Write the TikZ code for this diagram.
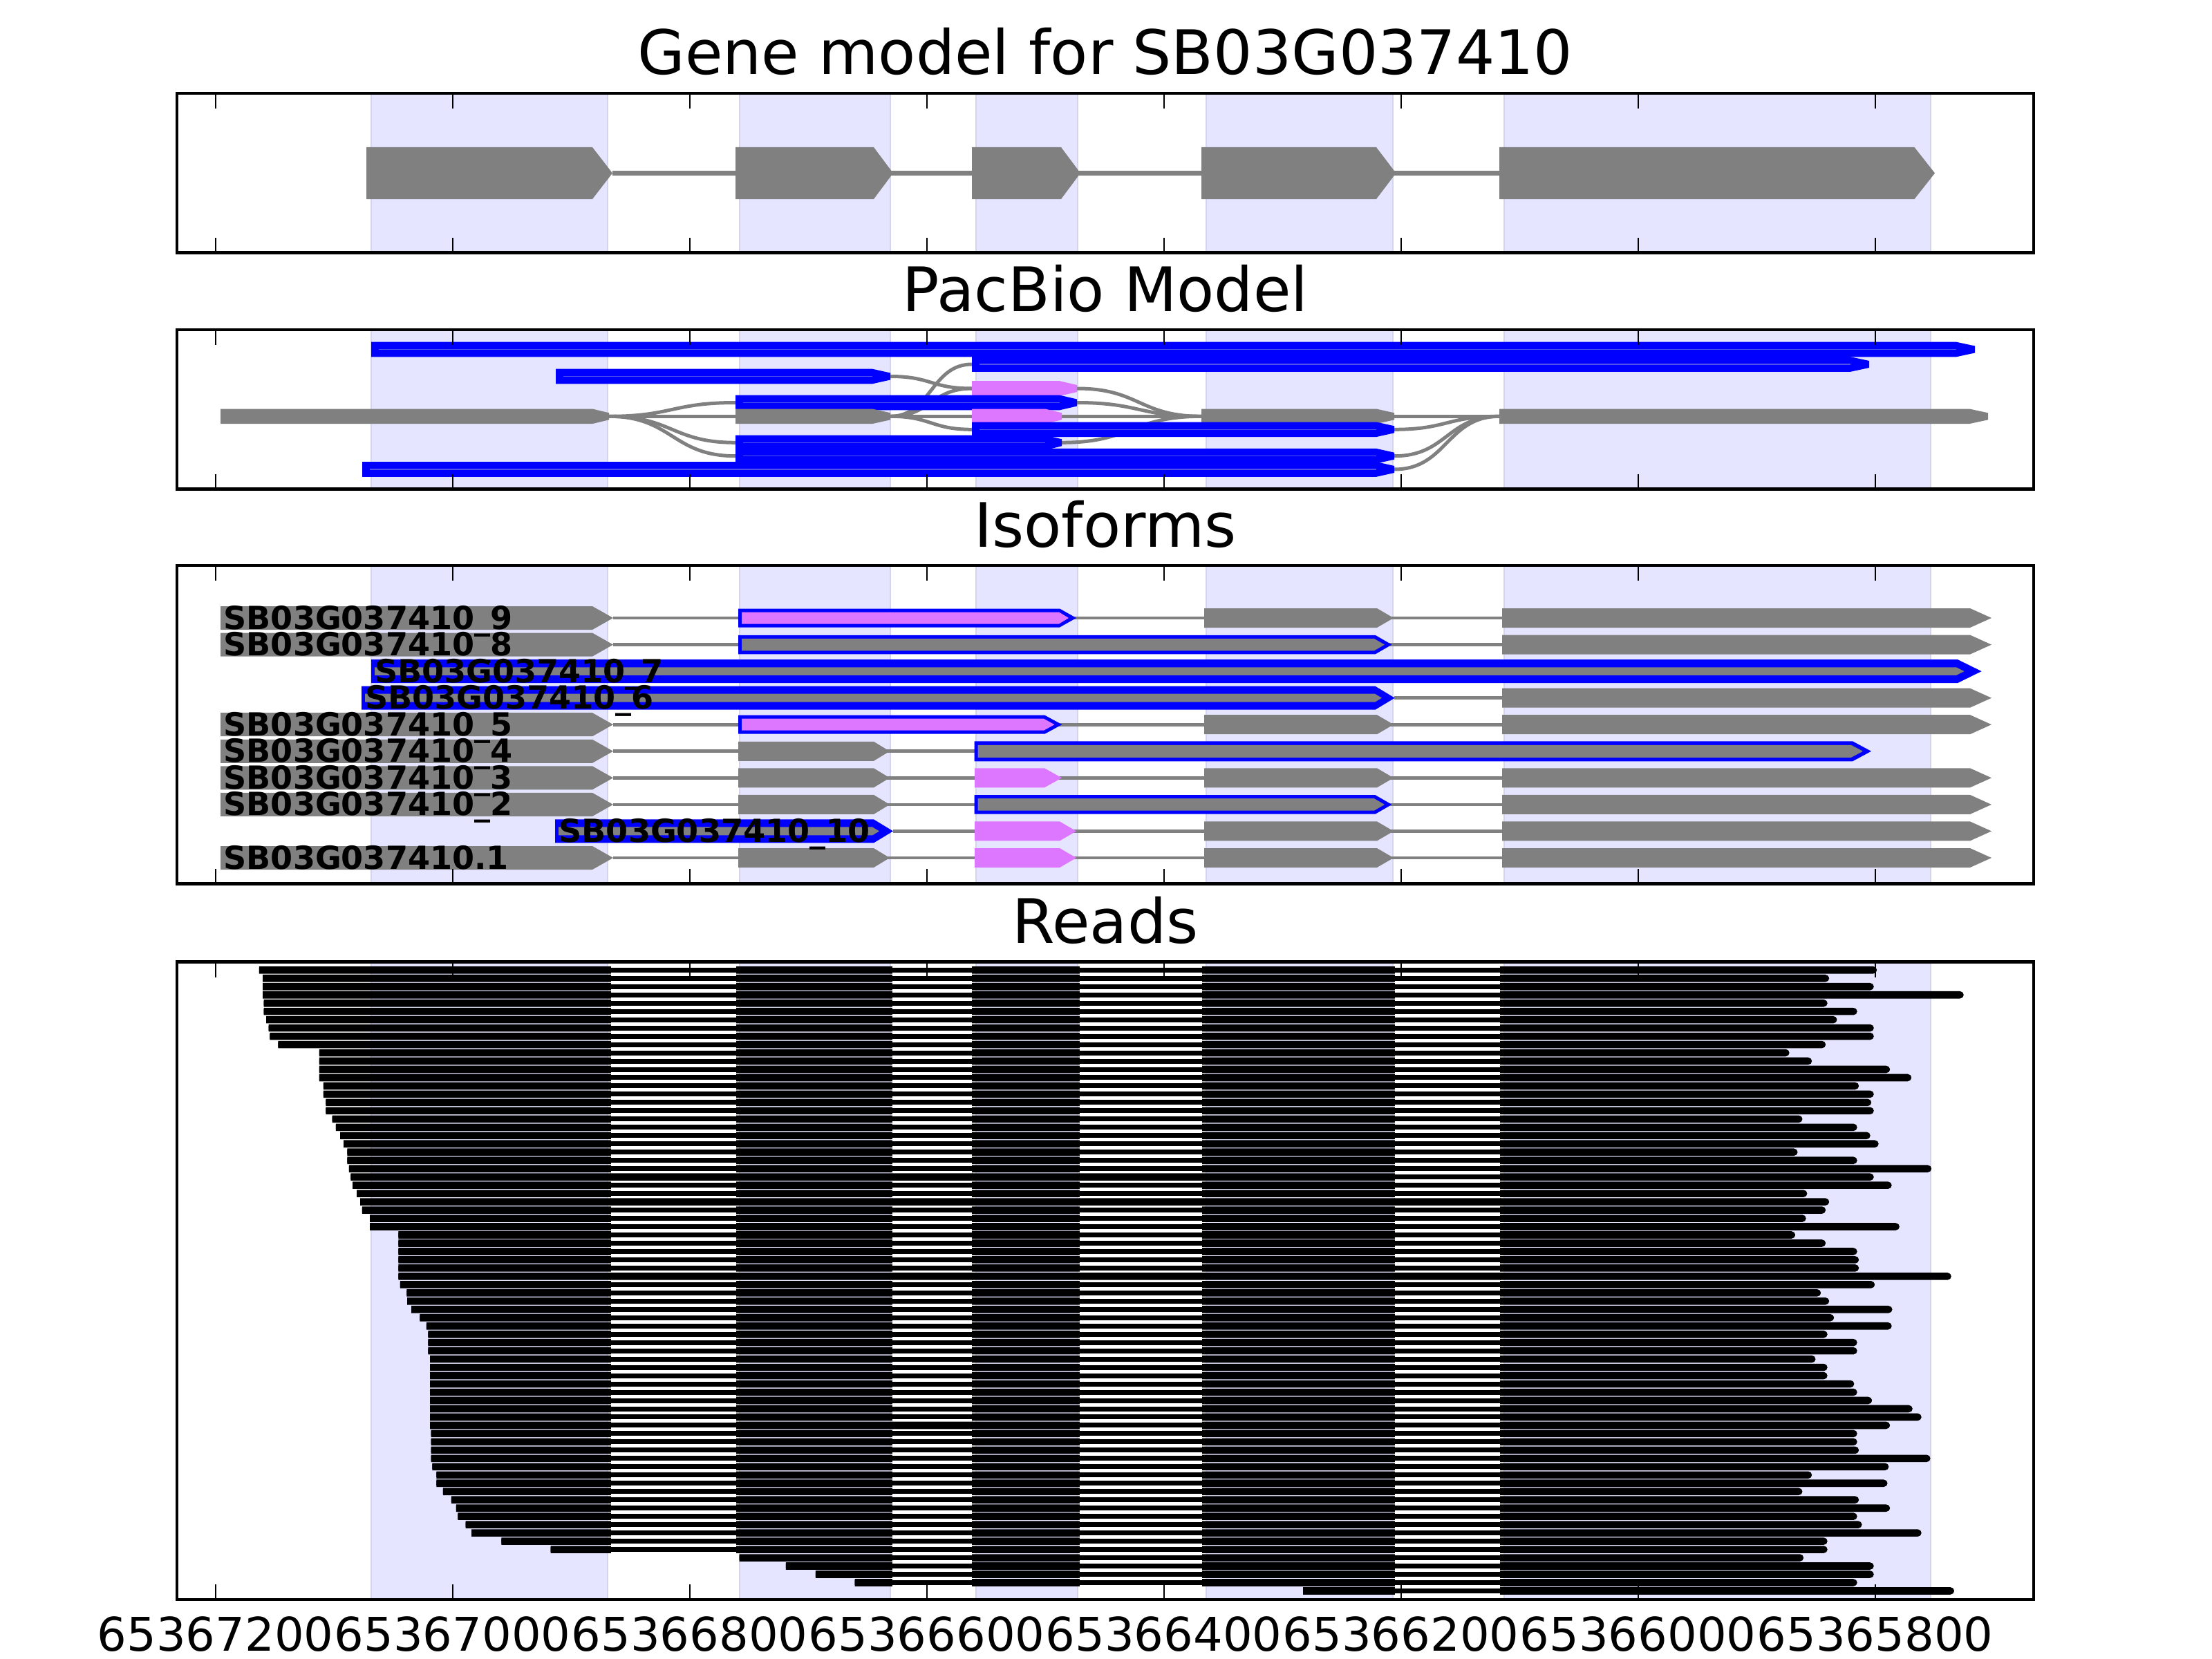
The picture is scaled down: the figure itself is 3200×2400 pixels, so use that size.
\documentclass[tikz,border=0pt]{standalone}
\usepackage{fontspec}
\setmainfont{DejaVu Sans}
\definecolor{exgray}{RGB}{128,128,128}
\definecolor{bandfill}{RGB}{229,229,255}
\definecolor{bandedge}{RGB}{212,212,238}
\definecolor{isoviolet}{RGB}{221,119,255}
\definecolor{pbline}{RGB}{80,80,235}
\newcommand\arw[5]{(#1,#4-#5) -- (#2,#4-#5) -- (#3,#4) -- (#2,#4+#5) -- (#1,#4+#5) -- cycle}
\newcommand\hxw[5]{(#1,#4-#5) -- (#2,#4-#5) -- (#3,#4-5) -- (#3,#4+5) -- (#2,#4+#5) -- (#1,#4+#5) -- cycle}
\newcommand\bandset[2]{%
  \foreach \ba/\bb in {537/879,1070/1288,1412/1559,1745/2015,2176/2793}
    {\filldraw[fill=bandfill,draw=bandedge,line width=0.02cm] (\ba,#1) rectangle (\bb,#2);}}
\newcommand\frameset[2]{%
  \draw[line width=0.045cm] (256,#1) rectangle (2942,#2);
  \foreach \tx in {311.7,654.7,997.7,1340.7,1683.7,2026.7,2369.7,2712.7}
    {\draw[line width=0.022cm] (\tx,#1) -- (\tx,#1+22) (\tx,#2) -- (\tx,#2-22);}}
\newcommand\pbb[5]{\fill[#5] \hxw{#1}{#2}{#3}{#4}{10.8};}
\newcommand\pbl[3]{\draw[pbline,line width=0.015cm] (#1+11,#3) -- (#2,#3);}
\newcommand\isoline[3]{\draw[exgray,line width=0.047cm] (#1,#3) -- (#2,#3);}
\begin{document}
\begin{tikzpicture}[x=0.01cm,y=-0.01cm,
  ttl/.style={anchor=base,font=\fontsize{25.2}{25.2}\selectfont},
  ticklab/.style={anchor=base,font=\fontsize{19.1}{19.1}\selectfont},
  isolab/.style={anchor=base west,inner sep=0pt,font=\bfseries\fontsize{13.1}{13.1}\selectfont}]
\useasboundingbox (0,0) rectangle (3200,2400);

% ---------------- titles
\node[ttl] (title1) at (1599,108) {Gene model for SB03G037410};
\node[ttl] (title2) at (1599,450) {PacBio Model};
\node[ttl] (title3) at (1599,791) {Isoforms};
\node[ttl] (title4) at (1599,1364.5) {Reads};

% ---------------- gene model
\bandset{135}{365.5}
\draw[exgray,line width=0.06cm] (886,250.5) -- (2169,250.5);
\fill[exgray] \arw{530}{857}{886}{250.5}{37.5};
\fill[exgray] \arw{1064}{1264}{1292}{250.5}{37.5};
\fill[exgray] \arw{1406}{1535}{1563}{250.5}{37.5};
\fill[exgray] \arw{1738}{1991}{2019.5}{250.5}{37.5};
\fill[exgray] \arw{2169}{2769.5}{2799}{250.5}{37.5};
\frameset{135}{365.5}

% ---------------- PacBio model
\bandset{477}{707.5}
\begin{scope}[exgray,line width=0.05cm]
\draw (881,602.3) .. controls (972.5,602.3) and (972.5,582.5) .. (1064,582.5);
\draw (881,602.3) -- (1064,602.3);
\draw (881,602.3) .. controls (972.5,602.3) and (972.5,640.3) .. (1064,640.3);
\draw (881,602.3) .. controls (972.5,602.3) and (972.5,659.7) .. (1064,659.7);
\draw (1288,544.5) .. controls (1347,544.5) and (1347,562) .. (1406,562);
\draw (1288,602.3) .. controls (1347,602.3) and (1347,527) .. (1406,527);
\draw (1288,602.3) .. controls (1347,602.3) and (1347,562) .. (1406,562);
\draw (1288,602.3) -- (1406,602.3);
\draw (1288,602.3) .. controls (1347,602.3) and (1347,621.3) .. (1406,621.3);
\draw (1558,562) .. controls (1648,562) and (1648,602.3) .. (1738,602.3);
\draw (1558,582.5) .. controls (1648,582.5) and (1648,602.3) .. (1738,602.3);
\draw (1536,602.3) -- (1738,602.3);
\draw (1536,640.3) .. controls (1637,640.3) and (1637,602.3) .. (1738,602.3);
\draw (2017,602.3) -- (2169,602.3);
\draw (2017,621.3) .. controls (2093,621.3) and (2093,602.3) .. (2169,602.3);
\draw (2017,659.7) .. controls (2093,659.7) and (2093,602.3) .. (2169,602.3);
\draw (2017,679) .. controls (2093,679) and (2093,602.3) .. (2169,602.3);
\end{scope}
\pbb{537}{2830}{2857}{505.5}{blue}\pbl{537}{2830}{505.5}
\pbb{1406}{2677}{2704}{527}{blue}\pbl{1406}{2677}{527}
\pbb{804}{1262}{1288}{544.5}{blue}\pbl{804}{1262}{544.5}
\pbb{1406}{1533}{1558}{562}{isoviolet}
\pbb{1064}{1533}{1558}{582.5}{blue}\pbl{1064}{1533}{582.5}
\pbb{319}{857}{881}{602.3}{exgray}
\pbb{1064}{1262}{1288}{602.3}{exgray}
\pbb{1406}{1512}{1536}{602.3}{isoviolet}
\pbb{1738}{1991}{2017}{602.3}{exgray}
\pbb{2169}{2849}{2876}{602.3}{exgray}
\pbb{1406}{1991}{2017}{621.3}{blue}\pbl{1406}{1991}{621.3}
\pbb{1064}{1512}{1536}{640.3}{blue}\pbl{1064}{1512}{640.3}
\pbb{1064}{1991}{2017}{659.7}{blue}\pbl{1064}{1991}{659.7}
\pbb{524}{1991}{2017}{679}{blue}\pbl{524}{1991}{679}
\frameset{477}{707.5}

% ---------------- isoforms
\bandset{818}{1278.7}
% row 0 : _9
\isoline{887}{2173}{894.0}
\fill[exgray] \arw{319}{857}{887}{894.0}{17};
\fill[blue] \arw{1068}{1533}{1557}{894.0}{13.5};
\fill[isoviolet] \arw{1073}{1532}{1546}{894.0}{8.5};
\fill[exgray] \arw{1742}{1992}{2016}{894.0}{14};
\fill[exgray] \arw{2173}{2850}{2881}{894.0}{14};
% row 1 : _8
\isoline{887}{2173}{932.6}
\fill[exgray] \arw{319}{857}{887}{932.6}{17};
\fill[blue] \arw{1068}{1989.5}{2013.4}{932.6}{13.8};
\fill[exgray] \arw{1073}{1988}{2003}{932.6}{8.7};
\fill[exgray] \arw{2173}{2850}{2881}{932.6}{14};
% row 2 : _7
\fill[blue] \arw{537}{2832}{2866.6}{971.1}{17};
\fill[exgray] \arw{542}{2830}{2841.6}{971.1}{5.8};
% row 3 : _6
\isoline{2017}{2173}{1009.7}
\fill[blue] \arw{523}{1989.5}{2017.7}{1009.7}{17};
\fill[exgray] \arw{528}{1989}{1999}{1009.7}{6};
\fill[exgray] \arw{2173}{2850}{2881}{1009.7}{14};
% row 4 : _5
\isoline{887}{2173}{1048.2}
\fill[exgray] \arw{319}{857}{887}{1048.2}{17};
\fill[blue] \arw{1068}{1511.4}{1536.3}{1048.2}{13.5};
\fill[isoviolet] \arw{1073}{1510}{1525.5}{1048.2}{8.5};
\fill[exgray] \arw{1742}{1992}{2016}{1048.2}{14};
\fill[exgray] \arw{2173}{2850}{2881}{1048.2}{14};
% row 5 : _4
\isoline{887}{1410}{1086.8}
\fill[exgray] \arw{319}{857}{887}{1086.8}{17};
\fill[exgray] \arw{1068}{1264}{1287}{1086.8}{14};
\fill[blue] \arw{1409.5}{2680}{2707}{1086.8}{14.5};
\fill[exgray] \arw{1414.5}{2678}{2695}{1086.8}{9};
% row 6 : _3
\isoline{887}{2173}{1125.3}
\fill[exgray] \arw{319}{857}{887}{1125.3}{17};
\fill[exgray] \arw{1068}{1264}{1287}{1125.3}{14};
\fill[isoviolet] \arw{1410}{1511}{1536}{1125.3}{14};
\fill[exgray] \arw{1742}{1992}{2016}{1125.3}{14};
\fill[exgray] \arw{2173}{2850}{2881}{1125.3}{14};
% row 7 : _2
\isoline{887}{2173}{1163.9}
\fill[exgray] \arw{319}{857}{887}{1163.9}{17};
\fill[exgray] \arw{1068}{1264}{1287}{1163.9}{14};
\fill[blue] \arw{1409.5}{1989.5}{2013.4}{1163.9}{13.8};
\fill[exgray] \arw{1414.5}{1988}{2003}{1163.9}{8.7};
\fill[exgray] \arw{2173}{2850}{2881}{1163.9}{14};
% row 8 : _10
\isoline{1292}{2173}{1202.4}
\fill[blue] \arw{803}{1264}{1292}{1202.4}{17};
\fill[exgray] \arw{808}{1262}{1272}{1202.4}{6};
\fill[isoviolet] \arw{1410}{1533}{1557}{1202.4}{14};
\fill[exgray] \arw{1742}{1992}{2016}{1202.4}{14};
\fill[exgray] \arw{2173}{2850}{2881}{1202.4}{14};
% row 9 : .1
\isoline{887}{2173}{1241.0}
\fill[exgray] \arw{319}{857}{887}{1241.0}{17};
\fill[exgray] \arw{1068}{1264}{1287}{1241.0}{14};
\fill[isoviolet] \arw{1410}{1533}{1557}{1241.0}{14};
\fill[exgray] \arw{1742}{1992}{2016}{1241.0}{14};
\fill[exgray] \arw{2173}{2850}{2881}{1241.0}{14};
% labels
\node[isolab] (lab0) at (323,910.0) {SB03G037410\_9};
\node[isolab] (lab1) at (323,948.6) {SB03G037410\_8};
\node[isolab] (lab2) at (541.5,987.1) {SB03G037410\_7};
\node[isolab] (lab3) at (527.5,1025.7) {SB03G037410\_6};
\node[isolab] (lab4) at (323,1064.2) {SB03G037410\_5};
\node[isolab] (lab5) at (323,1102.8) {SB03G037410\_4};
\node[isolab] (lab6) at (323,1141.3) {SB03G037410\_3};
\node[isolab] (lab7) at (323,1179.9) {SB03G037410\_2};
\node[isolab] (lab8) at (808,1218.4) {SB03G037410\_10};
\node[isolab] (lab9) at (323,1257.0) {SB03G037410.1};
\frameset{818}{1278.7}

% ---------------- reads
\bandset{1391.5}{2314}
\foreach \rk/\rs/\re/\ra/\rb/\rc/\rd in {
0/374.8/2715/0/0/0/0, 1/380/2646/0/0/0/0, 2/380/2710.6/0/0/0/0, 3/380/2840.6/0/0/0/0,
4/381.7/2643.5/0/0/0/0, 5/381.7/2686.5/0/0/0/0, 6/385.2/2657.3/0/0/0/0, 7/388.6/2710.6/0/0/0/0,
8/390.3/2710.6/0/0/0/0, 9/402.4/2641/0/0/0/0, 10/461.8/2588.4/0/0/0/0, 11/461.8/2621/0/0/0/0,
12/461.8/2734/0/0/0/0, 13/461.8/2765/0/0/0/0, 14/467.8/2689/0/0/0/0, 15/467.8/2710.6/0/0/0/0,
16/471.3/2707/0/0/0/0, 17/471.3/2710.6/0/0/0/0, 18/480.7/2607.3/0/0/0/0, 19/485.9/2686.5/0/0/0/0,
20/492/2705.5/0/0/0/0, 21/497/2717.5/0/0/0/0, 22/502.3/2600.4/0/0/0/0, 23/502.3/2686.5/0/0/0/0,
24/504.8/2794/0/0/0/0, 25/507.4/2710.6/1/1/1/0, 26/510/2736.5/0/0/0/0, 27/516/2614.2/0/0/0/0,
28/521.2/2646/1/1/1/1, 29/523.8/2641/0/0/0/0, 30/535/2612.5/0/0/0/0, 31/535/2747.7/0/0/0/0,
32/576.3/2597/0/0/0/0, 33/576.3/2641/0/0/0/0, 34/576.3/2686.5/0/0/0/0, 35/576.3/2689/0/0/0/0,
36/576.3/2689/0/0/0/0, 37/576.3/2822.6/1/1/1/1, 38/578.9/2712/0/0/0/0, 39/588.4/2634/0/0/0/0,
40/589.2/2646/0/0/0/0, 41/595.2/2737.3/0/0/0/0, 42/607.3/2653/0/0/0/0, 43/616.8/2736.5/0/0/0/0,
44/619.4/2643.5/0/0/0/0, 45/619.4/2686.5/0/0/0/0, 46/619.4/2686.5/0/0/0/0, 47/622/2626.3/0/0/0/0,
48/622/2643.5/0/0/0/0, 49/622/2643.5/0/0/0/0, 50/622/2682.2/0/0/0/0, 51/622/2686.5/0/0/0/0,
52/622/2708/0/0/0/0, 53/622/2766.6/0/0/0/0, 54/622/2779.5/0/0/0/0, 55/622/2734/0/1/0/0,
56/623.7/2686.5/0/0/0/0, 57/623.7/2686.5/0/0/0/0, 58/623.7/2689/0/0/0/0, 59/623.7/2792.4/0/0/0/0,
60/625.4/2732.2/0/0/0/0, 61/631.4/2621/0/0/0/0, 62/631.4/2730.4/0/0/0/0, 63/640.9/2607.3/0/0/0/0,
64/652.9/2689/0/0/0/0, 65/659.8/2734/0/0/0/0, 66/662.4/2686.5/0/0/0/0, 67/673.6/2693.4/0/0/0/0,
68/682.2/2779.5/0/0/0/0, 69/725.3/2643.5/0/0/0/0, 70/796.7/2643.5/0/0/0/0, 71/1069.6/2609/0/0/0/0,
72/1136.8/2710.6/0/0/0/0, 73/1179.8/2710.6/0/0/0/0, 74/1236.7/2686.5/0/0/0/0, 75/1885/2826.9/0/0/0/0}
{
  \pgfmathsetmacro\yy{1403.3+11.975*\rk}
  \begin{scope}
    \clip (\rs,\yy-5.3) -- (\re-5.3,\yy-5.3) arc[start angle=-90,end angle=90,radius=5.3] -- (\rs,\yy+5.3) -- cycle;
    \fill[black] (300,\yy-3.5) rectangle (2900,\yy+3.5);
    \fill[black] (300,\yy-6) rectangle (883.7,\yy+6);
    \fill[black] (1064.5,\yy-6) rectangle (1291,\yy+6);
    \fill[black] (1406.3,\yy-6) rectangle (1562,\yy+6);
    \fill[black] (1738.6,\yy-6) rectangle (2017.6,\yy+6);
    \fill[black] (2170,\yy-6) rectangle (2900,\yy+6);
    \ifnum\ra=1 \fill[black] (883,\yy-6) rectangle (1065,\yy+6); \fi
    \ifnum\rb=1 \fill[black] (1290,\yy-6) rectangle (1407,\yy+6); \fi
    \ifnum\rc=1 \fill[black] (1561,\yy-6) rectangle (1739,\yy+6); \fi
    \ifnum\rd=1 \fill[black] (2017,\yy-6) rectangle (2171,\yy+6); \fi
  \end{scope}
}
\frameset{1391.5}{2314}

% ---------------- x tick labels
\foreach \i/\tx/\tlab in {0/311.7/65367200,1/654.7/65367000,2/997.7/65366800,3/1340.7/65366600,
  4/1683.7/65366400,5/2026.7/65366200,6/2369.7/65366000,7/2712.7/65365800}
  {\node[ticklab] (tl\i) at (\tx,2388) {\tlab};}
\end{tikzpicture}
\end{document}
